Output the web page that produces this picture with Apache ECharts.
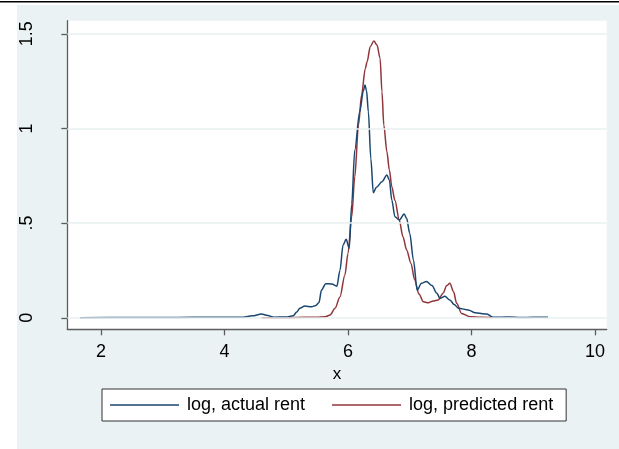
<!DOCTYPE html>
<html>
<head>
<meta charset="utf-8">
<script src="https://cdn.jsdelivr.net/npm/echarts@6/dist/echarts.min.js"></script>
<style>
html,body{margin:0;padding:0;background:#fff;}
#c{width:619px;height:449px;}
</style>
</head>
<body>
<div id="c"></div>
<script>
var actualX = [1.66,2.5,3.0,3.5,4.0,4.3,4.45,4.6,4.7,4.8,5.0,5.11,5.17,5.22,5.30,5.41,5.48,5.53,5.57,5.64,5.74,5.82,5.87,5.92,5.97,6.02,6.06,6.11,6.19,6.25,6.275,6.30,6.33,6.37,6.41,6.46,6.55,6.63,6.67,6.71,6.76,6.83,6.91,6.95,7.00,7.06,7.12,7.19,7.27,7.36,7.44,7.49,7.57,7.65,7.72,7.79,7.95,8.06,8.25,8.35,8.6,8.8,9.0,9.24];
var actualY = [0,0.001,0.001,0.002,0.002,0.003,0.01,0.02,0.012,0.003,0.004,0.01,0.03,0.05,0.062,0.058,0.065,0.08,0.146,0.18,0.178,0.167,0.25,0.384,0.414,0.367,0.6,0.886,1.088,1.2,1.229,1.2,1.088,0.84,0.66,0.689,0.718,0.754,0.727,0.62,0.534,0.516,0.548,0.525,0.446,0.305,0.146,0.182,0.192,0.17,0.129,0.102,0.113,0.094,0.07,0.05,0.041,0.026,0.02,0.002,0.004,0.001,0.002,0.002];
var predictedX = [4.6,5.0,5.3,5.5,5.63,5.71,5.79,5.87,5.95,6.0,6.06,6.11,6.17,6.22,6.28,6.31,6.36,6.42,6.47,6.52,6.55,6.58,6.63,6.67,6.71,6.76,6.83,6.89,6.95,7.02,7.08,7.15,7.22,7.30,7.38,7.46,7.54,7.60,7.65,7.71,7.76,7.84,7.98,8.14,8.33];
var predictedY = [0,0,0.002,0.002,0.005,0.014,0.05,0.11,0.226,0.34,0.534,0.745,1.018,1.176,1.317,1.352,1.432,1.462,1.44,1.37,1.194,1.018,0.877,0.78,0.692,0.62,0.516,0.428,0.358,0.287,0.2,0.125,0.085,0.079,0.088,0.094,0.13,0.17,0.182,0.137,0.076,0.023,0.005,0.002,0.001];
var xTicks = [2,4,6,8,10];
var yTicks = [0,0.5,1,1.5];
var seriesNames = ['log, actual rent','log, predicted rent'];
var xTitle = 'x';

function pairs(xs, ys){ return xs.map(function(x,i){ return [x, ys[i]]; }); }
var FONT = '"Liberation Sans", Arial, sans-serif';
var chart = echarts.init(document.getElementById('c'), null, {renderer:'canvas'});
chart.setOption({
  animation:false,
  backgroundColor:'#ffffff',
  graphic:[
    {type:'rect', z:-10, shape:{x:0,y:1,width:619,height:1.5}, style:{fill:'#000'}},
    {type:'rect', z:-10, shape:{x:17,y:5,width:602,height:444}, style:{fill:'#eaf2f3'}}
  ],
  grid:{left:67.3, top:20.7, width:539.4, height:308.6, show:true, backgroundColor:'#ffffff', borderWidth:0, containLabel:false},
  xAxis:{
    type:'value', min:1.454, max:10.19,
    name:xTitle, nameLocation:'middle', nameGap:30,
    nameTextStyle:{color:'#000', fontSize:17, fontFamily:FONT},
    axisLine:{show:true, onZero:false, lineStyle:{color:'#5c5c5c', width:1.3}},
    axisTick:{show:true, length:6, customValues:xTicks, lineStyle:{color:'#5c5c5c', width:1.3}},
    axisLabel:{show:true, customValues:xTicks, margin:14, color:'#000', fontSize:18, fontFamily:FONT},
    splitLine:{show:false}
  },
  yAxis:{
    type:'value', min:-0.061, max:1.569,
    axisLine:{show:true, onZero:false, lineStyle:{color:'#5c5c5c', width:1.3}},
    axisTick:{show:true, length:6, customValues:yTicks, lineStyle:{color:'#5c5c5c', width:1.3}},
    axisLabel:{show:true, customValues:yTicks, rotate:90, margin:31, color:'#000', fontSize:18, fontFamily:FONT,
      formatter:function(v){ var s = String(v); return (v>0 && v<1) ? s.replace(/^0/,'') : s; }},
    splitLine:{show:false}
  },
  legend:{
    data:seriesNames, left:102, top:389, orient:'horizontal',
    backgroundColor:'#ffffff', borderColor:'#333333', borderWidth:1,
    padding:[7,13,7,8], itemWidth:69, itemHeight:1.5, itemGap:27, icon:'rect',
    textStyle:{color:'#000', fontSize:18, fontFamily:FONT, padding:[0,0,0,3]}
  },
  series:[
    {type:'line', name:'grid', data:[], z:1, silent:true,
     markLine:{silent:true, symbol:'none', label:{show:false}, animation:false,
       lineStyle:{color:'#e8eff1', width:1.5, type:'solid'},
       data: yTicks.map(function(v){ return {yAxis:v}; })}},
    {type:'line', name:seriesNames[0], data:pairs(actualX, actualY), z:3, symbol:'none', showSymbol:false,
     smooth:0.3, smoothMonotone:'x', color:'#1a476f', lineStyle:{color:'#1a476f', width:1.5}},
    {type:'line', name:seriesNames[1], data:pairs(predictedX, predictedY), z:2, symbol:'none', showSymbol:false,
     smooth:0.3, smoothMonotone:'x', color:'#90353b', lineStyle:{color:'#90353b', width:1.5}}
  ]
});
</script>
</body>
</html>
